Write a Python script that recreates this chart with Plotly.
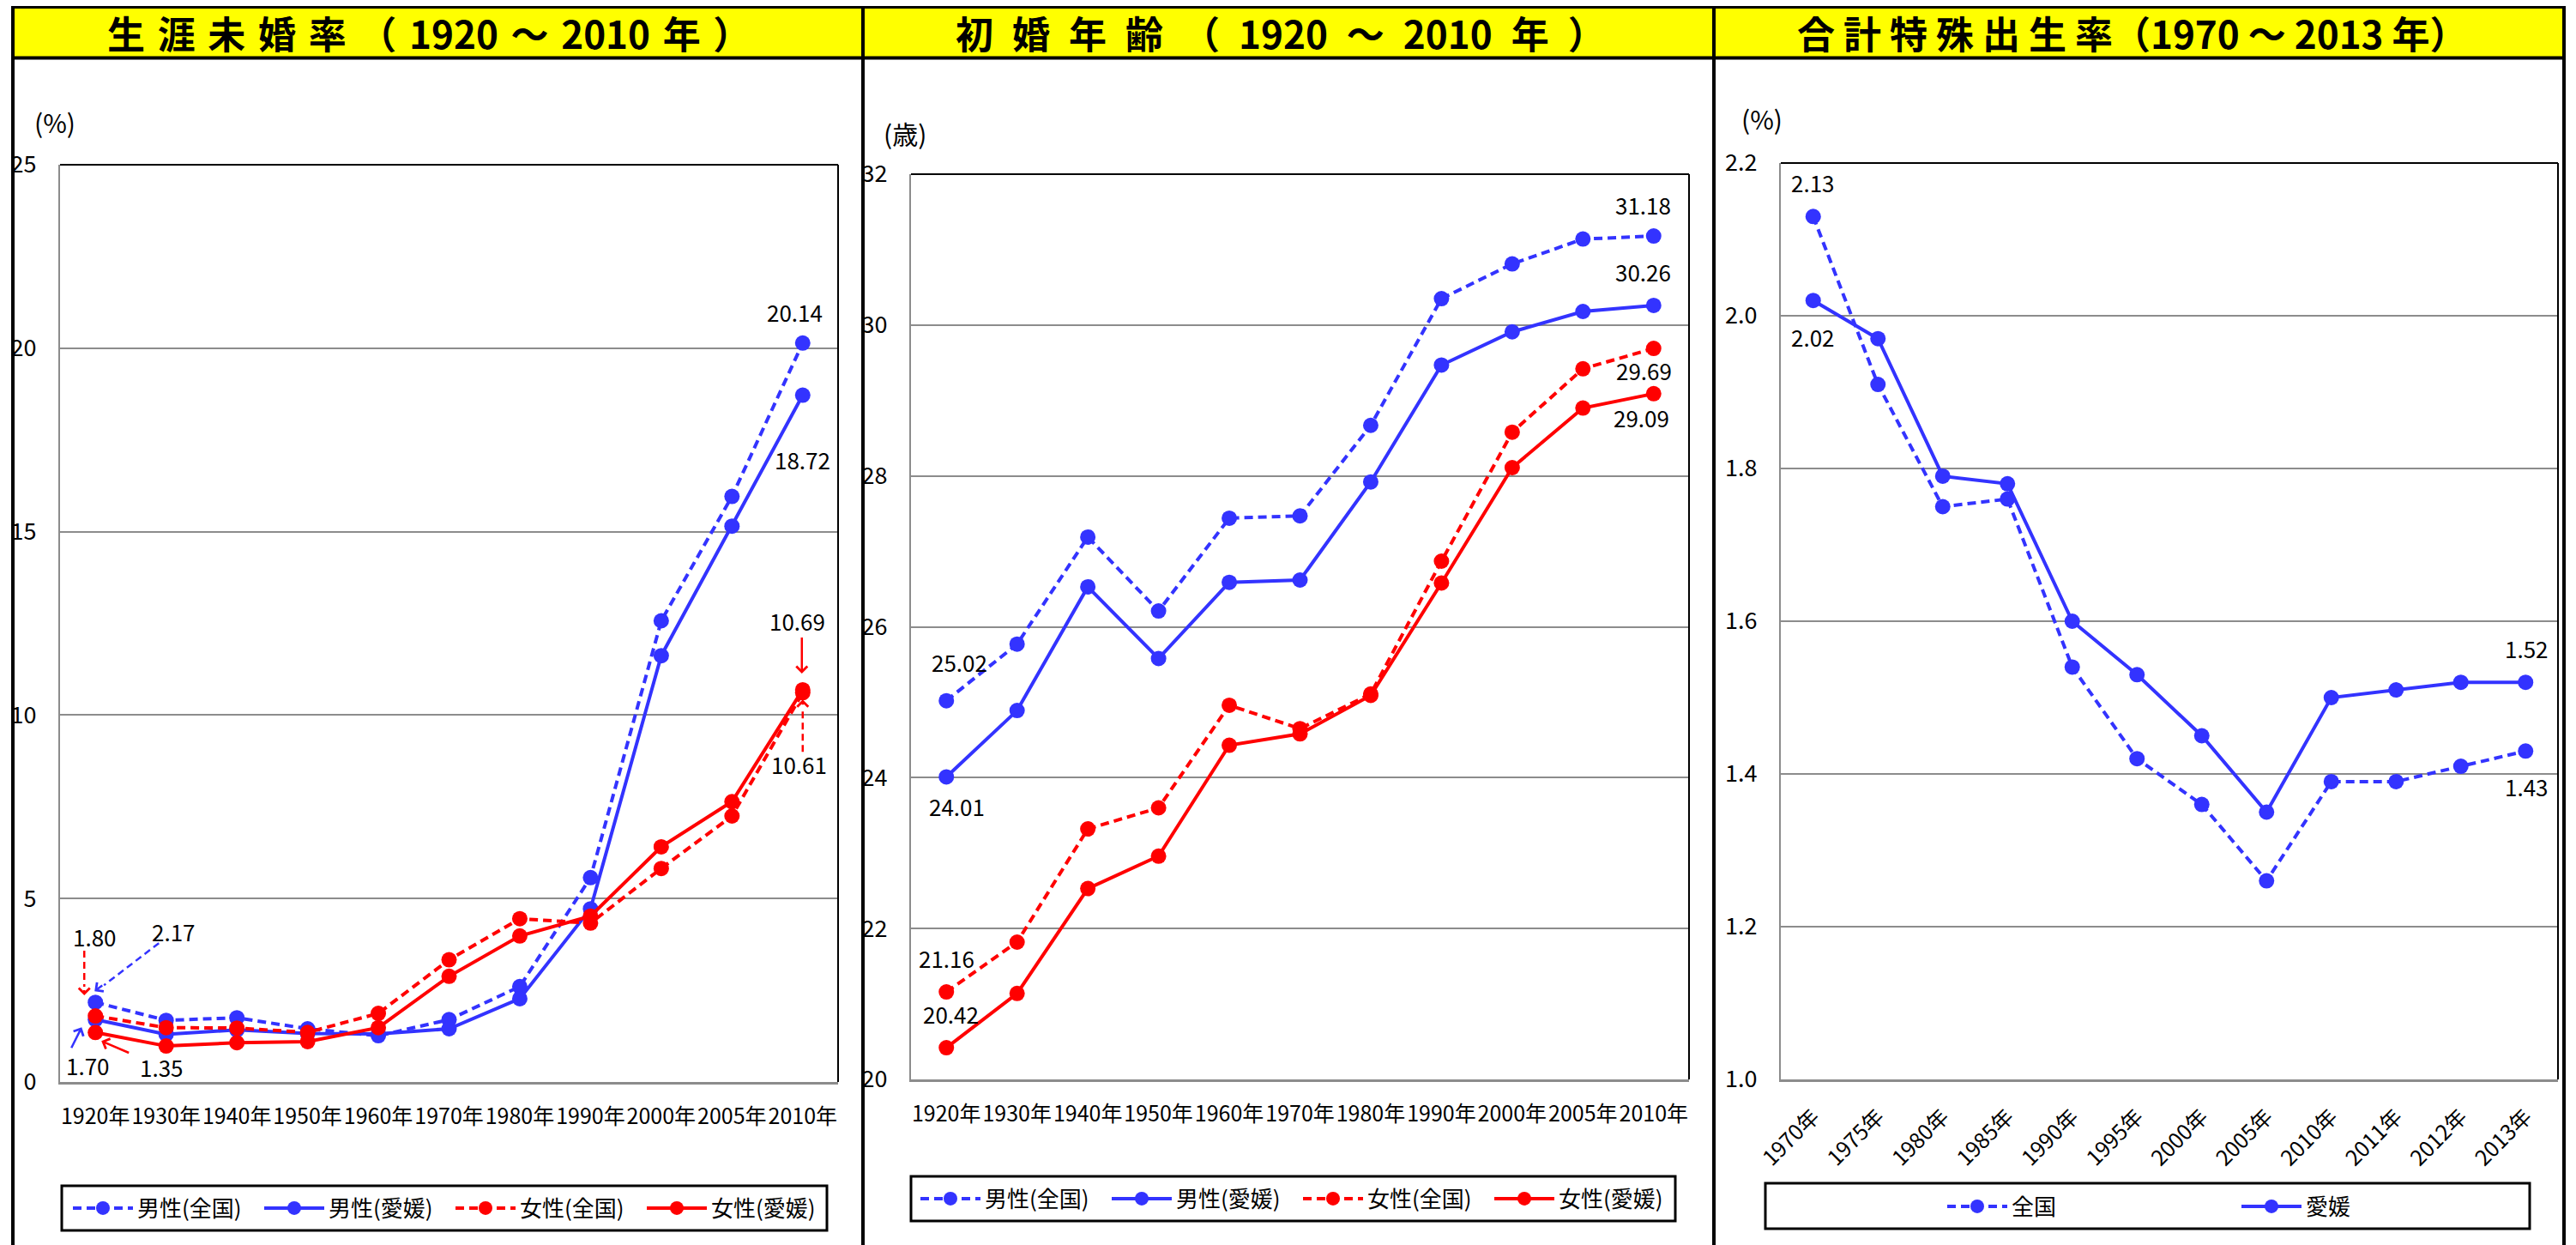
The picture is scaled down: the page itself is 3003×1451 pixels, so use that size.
import plotly.graph_objects as go

W, H = 3003, 1451
FONT = "Noto Sans CJK JP"
BLUE = "#3333FF"
RED = "#FF0000"
GRID = "#8C8C8C"
DASH = "10px,6px"
EN = "\u2002"    # en space
TPE = "\u2004"   # three-per-em space

# ---- 生涯未婚率 (%) ----
census_years = ["1920年", "1930年", "1940年", "1950年", "1960年", "1970年",
                "1980年", "1990年", "2000年", "2005年", "2010年"]
single_male_nat = [2.17, 1.68, 1.75, 1.45, 1.26, 1.70, 2.60, 5.57, 12.57, 15.96, 20.14]
single_male_ehime = [1.70, 1.30, 1.42, 1.32, 1.31, 1.45, 2.27, 4.72, 11.62, 15.15, 18.72]
single_female_nat = [1.80, 1.48, 1.47, 1.35, 1.87, 3.33, 4.45, 4.33, 5.82, 7.25, 10.61]
single_female_ehime = [1.35, 0.98, 1.07, 1.10, 1.48, 2.88, 3.98, 4.52, 6.41, 7.64, 10.69]

# ---- 初婚年齢 (歳) ----
age_male_nat = [25.02, 25.77, 27.19, 26.21, 27.44, 27.47, 28.67, 30.35, 30.81, 31.14, 31.18]
age_male_ehime = [24.01, 24.89, 26.53, 25.58, 26.59, 26.62, 27.92, 29.47, 29.91, 30.18, 30.26]
age_female_nat = [21.16, 21.82, 23.32, 23.60, 24.96, 24.65, 25.11, 26.87, 28.58, 29.42, 29.69]
age_female_ehime = [20.42, 21.14, 22.53, 22.96, 24.43, 24.58, 25.09, 26.58, 28.11, 28.90, 29.09]

# ---- 合計特殊出生率 ----
tfr_years = ["1970年", "1975年", "1980年", "1985年", "1990年", "1995年",
             "2000年", "2005年", "2010年", "2011年", "2012年", "2013年"]
tfr_nat = [2.13, 1.91, 1.75, 1.76, 1.54, 1.42, 1.36, 1.26, 1.39, 1.39, 1.41, 1.43]
tfr_ehime = [2.02, 1.97, 1.79, 1.78, 1.60, 1.53, 1.45, 1.35, 1.50, 1.51, 1.52, 1.52]

panel_titles = [
    TPE.join(["生", "涯", "未", "婚", "率", "（", "1920", "～", "2010", "年", "）"]),
    EN.join(["初", "婚", "年", "齢", "（", "1920", "～", "2010", "年", "）"]),
    " ".join(["合", "計", "特", "殊", "出", "生", "率（1970", "～", "2013", "年）"]),
]
unit_labels = ["(%)", "(歳)", "(%)"]


def px(v):
    return v / W


def py(v):
    return 1 - v / H


fig = go.Figure()

four_series = [
    ("男性(全国)", BLUE, DASH),
    ("男性(愛媛)", BLUE, "solid"),
    ("女性(全国)", RED, DASH),
    ("女性(愛媛)", RED, "solid"),
]
for (name, color, dash), vals in zip(four_series, [single_male_nat, single_male_ehime,
                                                    single_female_nat, single_female_ehime]):
    fig.add_trace(go.Scatter(x=census_years, y=vals, name=name, mode="lines+markers",
                             line=dict(color=color, width=4, dash=dash),
                             marker=dict(size=18, color=color),
                             xaxis="x", yaxis="y", legend="legend"))

for (name, color, dash), vals in zip(four_series, [age_male_nat, age_male_ehime,
                                                    age_female_nat, age_female_ehime]):
    fig.add_trace(go.Scatter(x=census_years, y=vals, name=name, mode="lines+markers",
                             line=dict(color=color, width=4, dash=dash),
                             marker=dict(size=18, color=color),
                             xaxis="x2", yaxis="y2", legend="legend2"))

for name, dash, vals in [("全国", DASH, tfr_nat), ("愛媛", "solid", tfr_ehime)]:
    fig.add_trace(go.Scatter(x=tfr_years, y=vals, name=name, mode="lines+markers",
                             line=dict(color=BLUE, width=4, dash=dash),
                             marker=dict(size=18, color=BLUE),
                             xaxis="x3", yaxis="y3", legend="legend3"))


def xaxis_cfg(left, right, anchor, n, angle, size):
    return dict(domain=[px(left), px(right)], anchor=anchor, type="category",
                range=[-0.5, n - 0.5], showline=True, linecolor=GRID, linewidth=3,
                showgrid=False, zeroline=False, ticks="", tickangle=angle,
                tickfont=dict(size=size, color="black"), ticklabelstandoff=16,
                automargin=False, fixedrange=True)


def yaxis_cfg(top, bottom, anchor, rng, dtick, fmt):
    return dict(domain=[py(bottom), py(top)], anchor=anchor, range=rng, dtick=dtick,
                tick0=rng[0], tickformat=fmt, showline=True, linecolor=GRID, linewidth=2,
                showgrid=True, gridcolor=GRID, gridwidth=2, zeroline=False, ticks="",
                tickfont=dict(size=27, color="black"), ticklabelstandoff=20,
                automargin=False, fixedrange=True)


legend_common = dict(orientation="h", xanchor="left", yanchor="middle",
                     font=dict(size=26, color="black", family=FONT),
                     itemwidth=70, bgcolor="rgba(0,0,0,0)", borderwidth=0,
                     traceorder="normal")

fig.update_layout(
    width=W, height=H, autosize=False,
    margin=dict(l=0, r=0, t=0, b=0, pad=0, autoexpand=False),
    paper_bgcolor="white", plot_bgcolor="white",
    font=dict(family=FONT, color="black"),
    showlegend=True,
    xaxis=xaxis_cfg(70, 977, "y", 11, 0, 25),
    yaxis=yaxis_cfg(192, 1261, "x", [0, 25], 5, "d"),
    xaxis2=xaxis_cfg(1062, 1969, "y2", 11, 0, 25),
    yaxis2=yaxis_cfg(203, 1258, "x2", [20, 32], 2, "d"),
    xaxis3=xaxis_cfg(2076, 2982, "y3", 12, -45, 25),
    yaxis3=yaxis_cfg(190, 1258, "x3", [1.0, 2.2], 0.2, ".1f"),
    legend=dict(legend_common, x=px(80), y=py(1408), entrywidth=138),
    legend2=dict(legend_common, x=px(1068), y=py(1397), entrywidth=138),
    legend3=dict(legend_common, x=px(2265), y=py(1406), entrywidth=258),
)

shapes = []
# frame, title band and panel dividers
shapes.append(dict(type="rect", xref="paper", yref="paper", x0=px(14), x1=px(2990),
                   y0=py(67), y1=py(9), fillcolor="#FFFF00", line=dict(width=0), layer="below"))
shapes.append(dict(type="line", xref="paper", yref="paper", x0=px(13), x1=px(2991),
                   y0=py(8.5), y1=py(8.5), line=dict(color="black", width=3)))
shapes.append(dict(type="line", xref="paper", yref="paper", x0=px(13), x1=px(2991),
                   y0=py(67.5), y1=py(67.5), line=dict(color="black", width=4)))
for xv in [15, 1006, 1998, 2989]:
    shapes.append(dict(type="line", xref="paper", yref="paper", x0=px(xv), x1=px(xv),
                       y0=py(7), y1=py(H + 5), line=dict(color="black", width=4)))

# black top/right edges of each plot area
for xa, ya in [("x", "y"), ("x2", "y2"), ("x3", "y3")]:
    shapes.append(dict(type="line", xref=f"{xa} domain", yref=f"{ya} domain",
                       x0=0, x1=1, y0=1, y1=1, line=dict(color="black", width=2)))
    shapes.append(dict(type="line", xref=f"{xa} domain", yref=f"{ya} domain",
                       x0=1, x1=1, y0=0, y1=1, line=dict(color="black", width=2)))

# legend frames
for (l, t, r, b) in [(72, 1382, 964, 1434), (1062, 1371, 1953, 1423), (2058, 1379, 2949, 1432)]:
    shapes.append(dict(type="rect", xref="paper", yref="paper", x0=px(l), x1=px(r),
                       y0=py(b), y1=py(t), line=dict(color="black", width=3),
                       fillcolor="rgba(0,0,0,0)"))


def dashed_leader(xcat, yval, x0, y0, x1, y1, color):
    """Dashed leader line, pixel offsets relative to a data point (y up)."""
    return dict(type="line", xref="x", yref="y", xsizemode="pixel", ysizemode="pixel",
                xanchor=xcat, yanchor=yval, x0=x0, y0=y0, x1=x1, y1=y1,
                line=dict(color=color, width=2.5, dash="8px,5px"))


shapes.append(dashed_leader("1920年", single_female_nat[0], -13, 76, -13, 34, RED))
shapes.append(dashed_leader("1920年", single_male_nat[0], 74, 69, 10, 20, BLUE))
shapes.append(dashed_leader("2010年", single_female_nat[-1], 0, -69, 0, -18, RED))

fig.update_layout(shapes=shapes)

ann = []
# panel titles
for title, cx in zip(panel_titles, [500, 1493, 2486]):
    ann.append(dict(xref="paper", yref="paper", x=px(cx), y=py(38), text=title,
                    showarrow=False, xanchor="center", yanchor="middle",
                    font=dict(size=44, color="black", family=FONT, weight="bold")))
# unit labels
for lab, (cx, cy) in zip(unit_labels, [(64, 142), (1055, 155), (2054, 138)]):
    ann.append(dict(xref="paper", yref="paper", x=px(cx), y=py(cy), text=lab,
                    showarrow=False, xanchor="center", yanchor="middle",
                    font=dict(size=30, color="black")))


def value_label(xa, ya, xcat, yval, dx, dy):
    return dict(xref=xa, yref=ya, x=xcat, y=yval, text=f"{yval:.2f}", showarrow=False,
                xanchor="center", yanchor="middle", xshift=dx, yshift=dy,
                font=dict(size=26, color="black"))


def arrow(xcat, yval, dx, dy, ax, ay, color):
    return dict(xref="x", yref="y", x=xcat, y=yval, text=" ", showarrow=True,
                xshift=dx, yshift=dy, ax=ax, ay=ay, arrowhead=4, arrowsize=1.0,
                arrowwidth=2.5, arrowcolor=color, standoff=0)


# 生涯未婚率 labels
ann.append(value_label("x", "y", "2010年", single_male_nat[-1], -9, 36))
ann.append(value_label("x", "y", "2010年", single_male_ehime[-1], 0, -75))
ann.append(value_label("x", "y", "2010年", single_female_ehime[-1], -6, 80))
ann.append(value_label("x", "y", "2010年", single_female_nat[-1], -4, -83))
ann.append(value_label("x", "y", "1920年", single_female_nat[0], -1, 93))
ann.append(value_label("x", "y", "1920年", single_male_nat[0], 91, 83))
ann.append(value_label("x", "y", "1920年", single_male_ehime[0], -9, -53))
ann.append(value_label("x", "y", "1920年", single_female_ehime[0], 77, -40))
ann.append(arrow("2010年", single_female_ehime[-1], -1, 19, 0, -52, RED))
ann.append(arrow("2010年", single_female_nat[-1], 0, -8, 0, 16, RED))
ann.append(arrow("1920年", single_female_nat[0], -13, 24, 0, -16, RED))
ann.append(arrow("1920年", single_male_nat[0], -1, 13, 12, -9, BLUE))
ann.append(arrow("1920年", single_male_ehime[0], -16, -9, -15, 30, BLUE))
ann.append(arrow("1920年", single_female_ehime[0], 7, -10, 35, 15, RED))

# 初婚年齢 labels
ann.append(value_label("x2", "y2", "2010年", age_male_nat[-1], -12, 37))
ann.append(value_label("x2", "y2", "2010年", age_male_ehime[-1], -12, 39))
ann.append(value_label("x2", "y2", "2010年", age_female_nat[-1], -11, -25))
ann.append(value_label("x2", "y2", "2010年", age_female_ehime[-1], -14, -28))
ann.append(value_label("x2", "y2", "1920年", age_male_nat[0], 15, 45))
ann.append(value_label("x2", "y2", "1920年", age_male_ehime[0], 12, -34))
ann.append(value_label("x2", "y2", "1920年", age_female_nat[0], 0, 40))
ann.append(value_label("x2", "y2", "1920年", age_female_ehime[0], 5, 40))

# 合計特殊出生率 labels
ann.append(value_label("x3", "y3", "1970年", tfr_nat[0], 0, 40))
ann.append(value_label("x3", "y3", "1970年", tfr_ehime[0], 0, -42))
ann.append(value_label("x3", "y3", "2013年", tfr_ehime[-1], 1, 40))
ann.append(value_label("x3", "y3", "2013年", tfr_nat[-1], 1, -41))

fig.update_layout(annotations=ann)

fig.write_html("out.html")
